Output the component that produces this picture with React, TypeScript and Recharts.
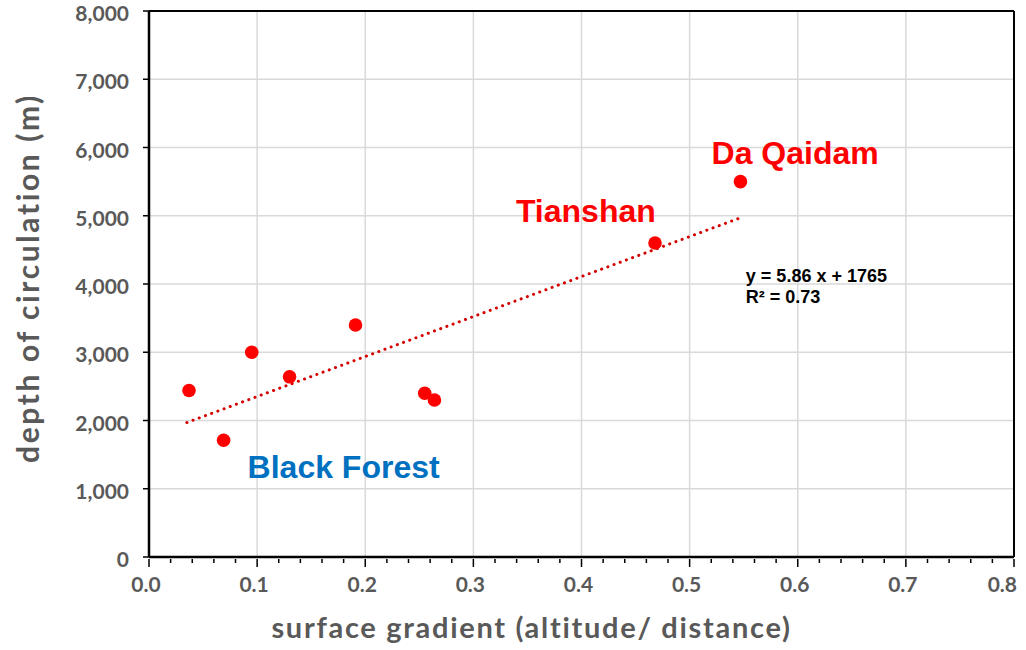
import React from 'react';
import {
  ScatterChart, Scatter, XAxis, YAxis, CartesianGrid, ReferenceLine, ReferenceDot,
} from 'recharts';

// surface gradient vs depth of circulation, one point per site
const gradient = [0.037, 0.069, 0.095, 0.13, 0.191, 0.255, 0.264, 0.468, 0.547];
const depth = [2440, 1710, 3000, 2640, 3400, 2400, 2300, 4600, 5500];

// linear fit as printed on the chart (slope given per 1/1000 of gradient)
const fitSlope = 5.86;
const fitIntercept = 1765;
const fitRange = [0.035, 0.547];

const xMajor = [0, 0.1, 0.2, 0.3, 0.4, 0.5, 0.6, 0.7, 0.8];
const xMinor = [0, 0.02, 0.04, 0.06, 0.08, 0.1, 0.12, 0.14, 0.16, 0.18, 0.2, 0.22, 0.24, 0.26, 0.28, 0.3, 0.32, 0.34, 0.36, 0.38, 0.4, 0.42, 0.44, 0.46, 0.48, 0.5, 0.52, 0.54, 0.56, 0.58, 0.6, 0.62, 0.64, 0.66, 0.68, 0.7, 0.72, 0.74, 0.76, 0.78, 0.8];
const yTicks = [0, 1000, 2000, 3000, 4000, 5000, 6000, 7000, 8000];

const points = gradient.map((g, i) => ({ x: g, y: depth[i] }));
const fitLine = fitRange.map(x => ({ x, y: fitSlope * 1000 * x + fitIntercept }));

const AXIS_FONT = 'Lato, "Open Sans", sans-serif';
const LABEL_FONT = '"Liberation Sans", Arial, sans-serif';
const GREY = '#595959';

const XTick = (props: any) => {
  const { x, y, payload } = props;
  const v = Math.round(payload.value * 100) / 100;
  const major = Math.abs(v * 10 - Math.round(v * 10)) < 1e-6;
  const last = v >= 0.8;
  return (
    <g>
      <line x1={x} x2={x} y1={y} y2={y + (major ? 8 : 4)} stroke="#000" strokeWidth={1.5} />
      {major && (
        <text
          x={last ? x + 3 : x - 3}
          y={y + 33}
          textAnchor={last ? 'end' : 'middle'}
          fontFamily={AXIS_FONT}
          fontWeight={700}
          fontSize={21}
          fill={GREY}
        >
          {v.toFixed(1)}
        </text>
      )}
    </g>
  );
};

const YTick = (props: any) => {
  const { x, y, payload } = props;
  return (
    <text x={x} y={y + 10} textAnchor="end" fontFamily={AXIS_FONT} fontWeight={700} fontSize={21} fill={GREY}>
      {payload.value.toLocaleString('en-US')}
    </text>
  );
};

const noDot = () => null;

export default function App() {
  return (
    <div style={{ position: 'absolute', left: 0, top: 0, background: '#fff' }}>
      <ScatterChart width={1026} height={650} margin={{ top: 11, right: 12, left: 0, bottom: 0 }}>
        <CartesianGrid vertical={false} stroke="#d9d9d9" strokeWidth={1.5} />
        {xMajor.slice(1, -1).map(v => (
          <ReferenceLine key={v} x={v} stroke="#d9d9d9" strokeWidth={1.5} />
        ))}
        <ReferenceLine y={8000} stroke="#000" strokeWidth={2} />
        <ReferenceLine x={0.8} stroke="#000" strokeWidth={2} />
        <XAxis
          type="number"
          dataKey="x"
          domain={[0, 0.8]}
          ticks={xMinor}
          interval={0}
          height={93}
          tickSize={0}
          tickLine={false}
          tick={<XTick />}
          axisLine={{ stroke: '#000', strokeWidth: 2.5 }}
          label={{
            value: 'surface gradient (altitude/ distance)',
            position: 'insideBottom',
            offset: 12,
            dx: -50,
            style: { fontFamily: AXIS_FONT, fontWeight: 700, fontSize: 29, fill: GREY, letterSpacing: 1.7 },
          }}
        />
        <YAxis
          type="number"
          dataKey="y"
          domain={[0, 8000]}
          ticks={yTicks}
          interval={0}
          width={149}
          tickSize={6}
          tickMargin={14}
          tickLine={{ stroke: '#000', strokeWidth: 1.5 }}
          tick={<YTick />}
          axisLine={{ stroke: '#000', strokeWidth: 2.5 }}
          label={{
            value: 'depth of circulation (m)',
            angle: -90,
            position: 'insideLeft',
            offset: 28,
            dy: -6,
            style: { fontFamily: AXIS_FONT, fontWeight: 700, fontSize: 30, fill: GREY, letterSpacing: 2.6, textAnchor: 'middle' },
          }}
        />
        <Scatter
          data={fitLine}
          line={{ stroke: '#d40000', strokeWidth: 3, strokeDasharray: '0.1 6.5', strokeLinecap: 'round' }}
          shape={noDot}
          isAnimationActive={false}
        />
        <Scatter data={points} fill="#ff0000" shape={(p: any) => <circle cx={p.cx} cy={p.cy} r={6.8} fill="#ff0000" />} isAnimationActive={false} />
        <ReferenceDot x={0.5976} y={5920} r={0} label={{ value: 'Da Qaidam', position: 'center', style: { fontFamily: LABEL_FONT, fontWeight: 700, fontSize: 32, fill: '#ff0000' } }} />
        <ReferenceDot x={0.404} y={5070} r={0} label={{ value: 'Tianshan', position: 'center', style: { fontFamily: LABEL_FONT, fontWeight: 700, fontSize: 32, fill: '#ff0000' } }} />
        <ReferenceDot x={0.18} y={1320} r={0} label={{ value: 'Black Forest', position: 'center', style: { fontFamily: LABEL_FONT, fontWeight: 700, fontSize: 32, fill: '#0070c0' } }} />
        <ReferenceDot x={0.552} y={4117} r={0} label={{ value: 'y = 5.86 x + 1765', position: 'right', offset: 0, style: { fontFamily: LABEL_FONT, fontWeight: 700, fontSize: 18, fill: '#000' } }} />
        <ReferenceDot x={0.552} y={3810} r={0} label={{ value: 'R² = 0.73', position: 'right', offset: 0, style: { fontFamily: LABEL_FONT, fontWeight: 700, fontSize: 18, fill: '#000' } }} />
      </ScatterChart>
    </div>
  );
}
